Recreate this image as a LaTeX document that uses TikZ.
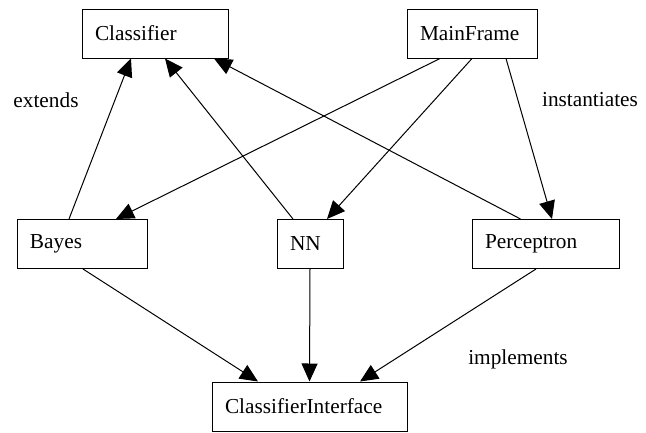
\documentclass[tikz,border=0pt]{standalone}
\usepackage{fontspec}
\setmainfont{Liberation Serif}
\usetikzlibrary{arrows.meta,positioning}
\tikzset{
  classbox/.style={draw, line width=1pt, align=left, inner xsep=13pt, inner ysep=0pt,
    minimum height=49pt, font=\fontsize{21.3}{25}\selectfont},
  edge/.style={-{Triangle[length=18pt, width=16pt]}, line width=1pt},
  note/.style={font=\fontsize{21.3}{25}\selectfont},
}

\begin{document}
\begin{tikzpicture}[x=1pt, y=-1pt]
  \useasboundingbox (0,0) rectangle (646,432);

  % Classes
  \node[classbox, text width=120pt] (Classifier) at (155,33.5) {Classifier};
  \node[classbox, text width=104pt] (MainFrame) at (472,33.5) {MainFrame};
  \node[classbox, text width=104pt] (Bayes) at (82,244) {Bayes};
  \node[classbox, text width=40pt] (NN) at (310,244) {NN};
  \node[classbox, text width=121pt] (Perceptron) at (545.5,244) {Perceptron};
  \node[classbox, text width=169pt] (Interface) at (309.5,406.5) {ClassifierInterface};

  % extends
  \draw[edge] ([xshift=-13pt]Bayes.north) -- ([xshift=-24pt]Classifier.south);
  \draw[edge] ([xshift=-17pt]NN.north) -- ([xshift=10pt]Classifier.south);
  \draw[edge] ([xshift=-25pt]Perceptron.north) -- ([xshift=59pt]Classifier.south);

  % instantiates
  \draw[edge] ([xshift=-32pt]MainFrame.south) -- ([xshift=34pt]Bayes.north);
  \draw[edge] (MainFrame.south) -- ([xshift=17pt]NN.north);
  \draw[edge] ([xshift=34pt]MainFrame.south) -- ([xshift=6.5pt]Perceptron.north);

  % implements
  \draw[edge] ([xshift=1pt]Bayes.south) -- ([xshift=-51.5pt]Interface.north);
  \draw[edge] (NN.south) -- (Interface.north);
  \draw[edge] ([xshift=-9.5pt]Perceptron.south) -- ([xshift=50.5pt]Interface.north);

  % Labels
  \node[note] (extends) at (46,100) {extends};
  \node[note] (instantiates) at (590,100) {instantiates};
  \node[note] (implements) at (518,359) {implements};

\end{tikzpicture}
\end{document}
